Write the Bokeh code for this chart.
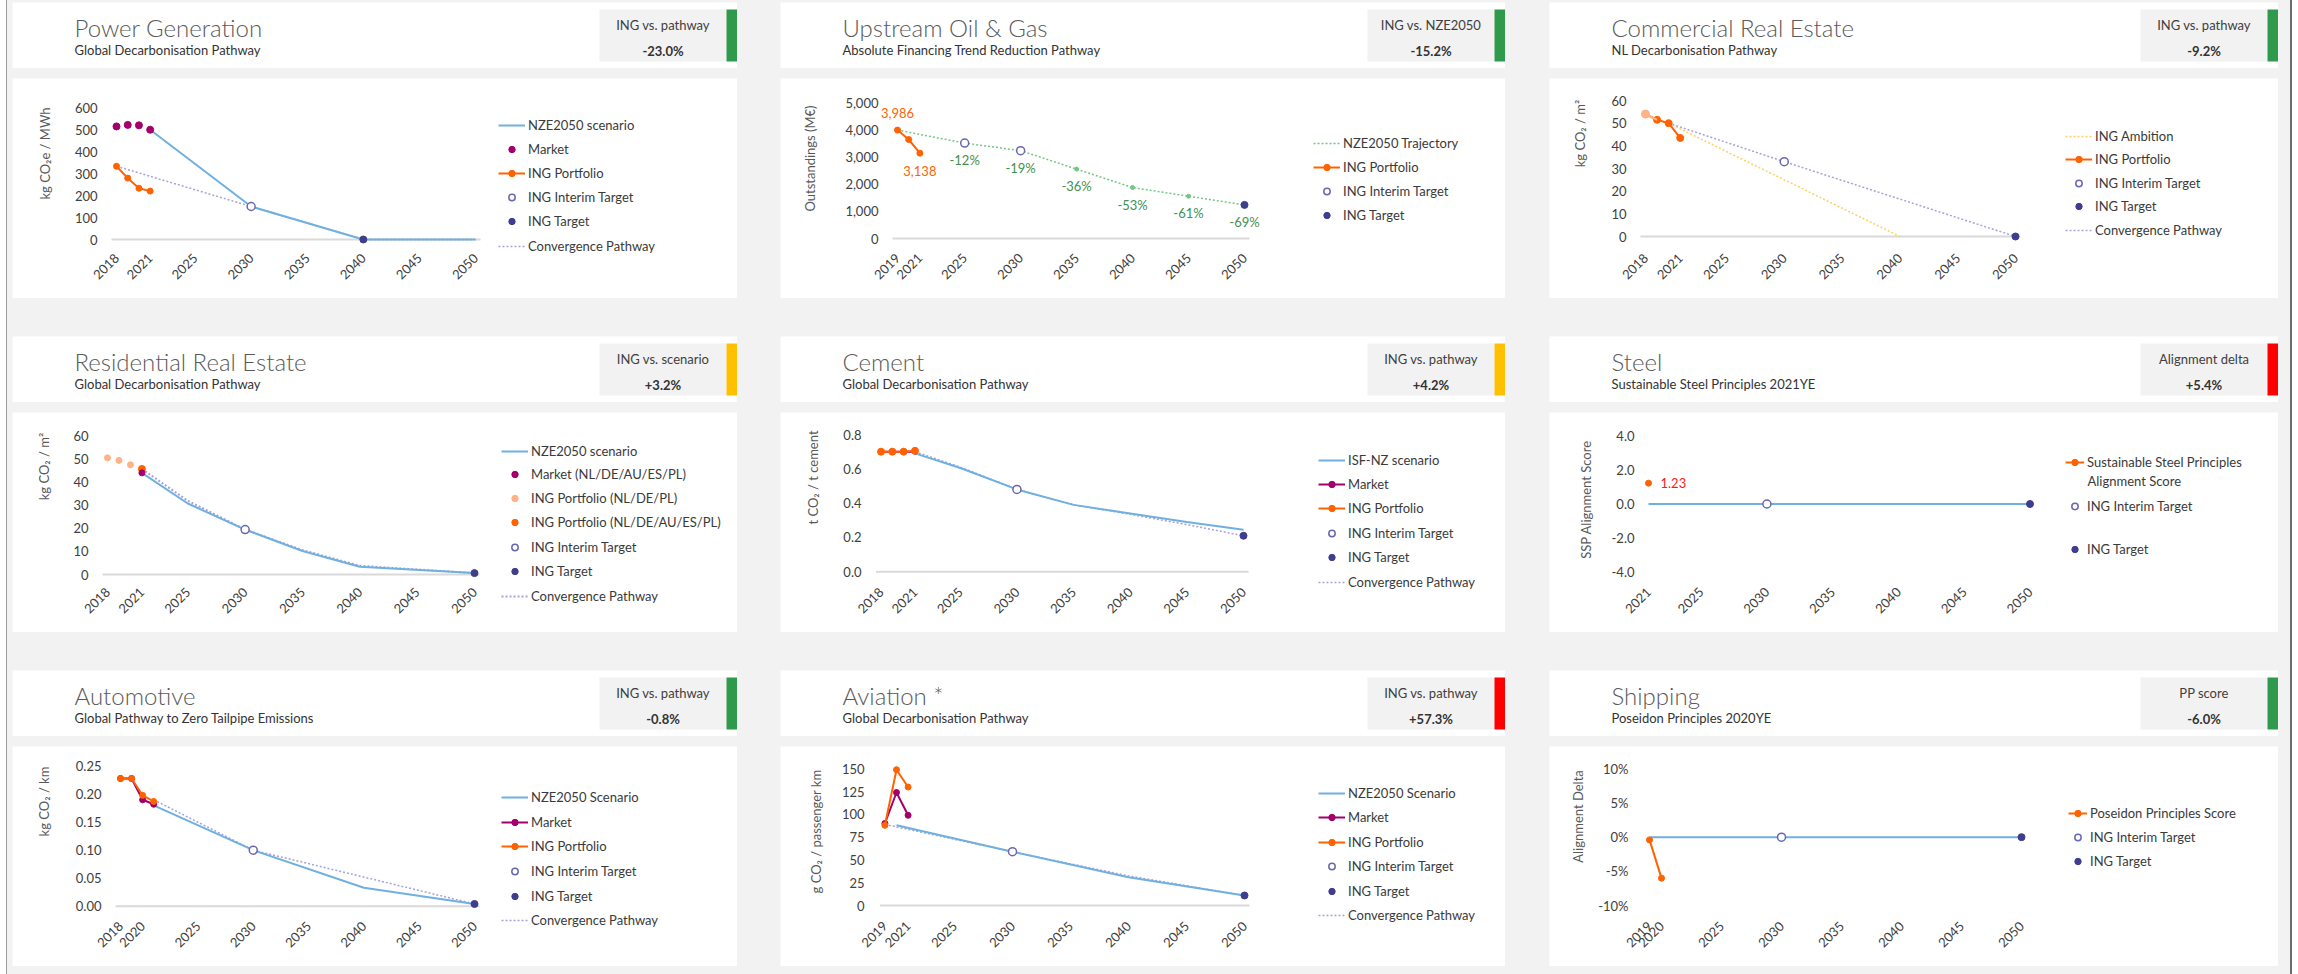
from math import pi
from bokeh.plotting import figure
from bokeh.models import Range1d, FixedTicker, NumeralTickFormatter, Legend, LegendItem, Label, Spacer
from bokeh.layouts import row, column
from bokeh.embed import file_html
from bokeh.resources import INLINE
from bokeh.core.properties import value

# ------------------------------------------------------------------ data
titles = ["Power Generation", "Upstream Oil & Gas", "Commercial Real Estate",
          "Residential Real Estate", "Cement", "Steel",
          "Automotive", "Aviation *", "Shipping"]
subtitles = ["Global Decarbonisation Pathway", "Absolute Financing Trend Reduction Pathway",
             "NL Decarbonisation Pathway", "Global Decarbonisation Pathway",
             "Global Decarbonisation Pathway", "Sustainable Steel Principles 2021YE",
             "Global Pathway to Zero Tailpipe Emissions", "Global Decarbonisation Pathway",
             "Poseidon Principles 2020YE"]
badge_labels = ["ING vs. pathway", "ING vs. NZE2050", "ING vs. pathway",
                "ING vs. scenario", "ING vs. pathway", "Alignment delta",
                "ING vs. pathway", "ING vs. pathway", "PP score"]
badge_values = ["-23.0%", "-15.2%", "-9.2%", "+3.2%", "+4.2%", "+5.4%", "-0.8%", "+57.3%", "-6.0%"]
badge_status = ["green", "green", "green", "yellow", "yellow", "red", "green", "red", "green"]

# Power generation
pg_years = [2018, 2019, 2020, 2021]
pg_market = [514, 521, 519, 499]
pg_portfolio = [333, 279, 233, 220]
pg_nze_years = [2021, 2030, 2040, 2050]
pg_nze = [499, 150, 0, 0]
pg_conv_years = [2018, 2030, 2040, 2050]
pg_conv = [333, 150, 0, 0]
pg_interim_years, pg_interim = [2030], [150]
pg_target_years, pg_target = [2040], [0]
pg_xticks = [2018, 2021, 2025, 2030, 2035, 2040, 2045, 2050]
pg_yticks = [0, 100, 200, 300, 400, 500, 600]

# Upstream oil & gas
og_years = [2019, 2020, 2021]
og_portfolio = [3986, 3640, 3138]
og_traj_years = [2019, 2025, 2030, 2035, 2040, 2045, 2050]
og_traj = [3986, 3508, 3229, 2551, 1873, 1555, 1236]
og_pct = [-12, -19, -36, -53, -61, -69]
og_interim_years, og_interim = [2025, 2030], [3508, 3229]
og_target_years, og_target = [2050], [1236]
og_xticks = [2019, 2021, 2025, 2030, 2035, 2040, 2045, 2050]
og_yticks = [0, 1000, 2000, 3000, 4000, 5000]

# Commercial real estate
cre_years = [2018, 2019, 2020, 2021]
cre_portfolio = [54, 51.5, 50, 43.5]
cre_amb_years, cre_amb = [2020, 2040], [50, 0]
cre_conv_years, cre_conv = [2020, 2030, 2050], [50, 33, 0]
cre_interim_years, cre_interim = [2030], [33]
cre_target_years, cre_target = [2050], [0]
cre_xticks = [2018, 2021, 2025, 2030, 2035, 2040, 2045, 2050]
cre_yticks = [0, 10, 20, 30, 40, 50, 60]

# Residential real estate
rre_nldepl_years, rre_nldepl = [2018, 2019, 2020], [50.6, 49.5, 47.6]
rre_all_years, rre_all = [2021], [45.8]
rre_market_years, rre_market = [2021], [44.1]
rre_nze_years = [2021, 2025, 2030, 2035, 2040, 2050]
rre_nze = [44.1, 30.8, 19.5, 10.2, 3.4, 0.6]
rre_conv = [45.8, 32.0, 19.5, 10.6, 3.8, 0.6]
rre_interim_years, rre_interim = [2030], [19.5]
rre_target_years, rre_target = [2050], [0.6]
rre_xticks = [2018, 2021, 2025, 2030, 2035, 2040, 2045, 2050]
rre_yticks = [0, 10, 20, 30, 40, 50, 60]

# Cement
cem_years = [2018, 2019, 2020, 2021]
cem_portfolio = [0.70, 0.70, 0.70, 0.705]
cem_market = [0.70, 0.70, 0.70, 0.70]
cem_isf_years = [2021, 2025, 2030, 2035, 2040, 2045, 2050]
cem_isf = [0.69, 0.605, 0.48, 0.39, 0.34, 0.29, 0.245]
cem_conv = [0.70, 0.61, 0.48, 0.39, 0.335, 0.275, 0.21]
cem_interim_years, cem_interim = [2030], [0.48]
cem_target_years, cem_target = [2050], [0.21]
cem_xticks = [2018, 2021, 2025, 2030, 2035, 2040, 2045, 2050]
cem_yticks = [0.0, 0.2, 0.4, 0.6, 0.8]

# Steel
st_years, st_score = [2021], [1.23]
st_ref_years, st_ref = [2021, 2050], [0, 0]
st_interim_years, st_interim = [2030], [0]
st_target_years, st_target = [2050], [0]
st_xticks = [2021, 2025, 2030, 2035, 2040, 2045, 2050]
st_yticks = [-4.0, -2.0, 0.0, 2.0, 4.0]

# Automotive
au_years = [2018, 2019, 2020, 2021]
au_portfolio = [0.228, 0.228, 0.198, 0.187]
au_market = [0.228, 0.228, 0.190, 0.182]
au_nze_years = [2021, 2030, 2040, 2050]
au_nze = [0.180, 0.100, 0.033, 0.004]
au_conv = [0.190, 0.100, 0.052, 0.004]
au_interim_years, au_interim = [2030], [0.10]
au_target_years, au_target = [2050], [0.004]
au_xticks = [2018, 2020, 2025, 2030, 2035, 2040, 2045, 2050]
au_yticks = [0.0, 0.05, 0.10, 0.15, 0.20, 0.25]

# Aviation
av_years = [2019, 2020, 2021]
av_portfolio = [88, 149, 130]
av_market = [90, 124, 99]
av_nze_years, av_nze = [2020, 2030, 2040, 2050], [88, 59, 31, 11]
av_conv_years, av_conv = [2019, 2030, 2040, 2050], [89, 59, 32.5, 11]
av_interim_years, av_interim = [2030], [59]
av_target_years, av_target = [2050], [11]
av_xticks = [2019, 2021, 2025, 2030, 2035, 2040, 2045, 2050]
av_yticks = [0, 25, 50, 75, 100, 125, 150]

# Shipping
sh_years, sh_score = [2019, 2020], [-0.004, -0.060]
sh_ref_years, sh_ref = [2019, 2050], [0, 0]
sh_interim_years, sh_interim = [2030], [0]
sh_target_years, sh_target = [2050], [0]
sh_xticks = [2019, 2020, 2025, 2030, 2035, 2040, 2045, 2050]
sh_yticks = [-0.10, -0.05, 0.0, 0.05, 0.10]

# ------------------------------------------------------------------ style
FONT = "Lato"
TITLE_FONT = "Lato Light, Lato"
BLUE = "#6FB0E0"
MAGENTA = "#A3006B"
ORANGE = "#FF6200"
LIGHT_ORANGE = "#FFB285"
INTERIM = "#6A67B0"
TARGET = "#3F3D8E"
CONV = "#A4A3D6"
AMBITION = "#FFCF66"
GREEN_TRAJ = "#72C784"
GREEN_TXT = "#3F9150"
BASE = "#D9D9D9"
TICK = "#404040"
AXT = "#595959"
LEG = "#3A3A3A"
PAGE_BG = "#F2F2F2"
BADGE_BG = "#F2F2F2"
STATUS = {"green": "#2F9A4C", "yellow": "#FFC000", "red": "#FF0000"}

HH, CH = 66, 220      # header / chart box heights
XAX = 174             # pixel row of the x-axis (tick labels hang below it)
LH = 16               # legend row height


def make_header(W, title, subtitle, blabel, bval, bcolor):
    h = figure(width=W, height=HH, x_range=Range1d(0, W), y_range=Range1d(HH, 0),
               x_axis_location=None, y_axis_location=None, output_backend="svg",
               toolbar_location=None, min_border=0)
    h.grid.visible = False
    h.outline_line_color = None
    h.background_fill_color = "white"
    h.border_fill_color = "white"
    h.quad(left=[W - 138], right=[W - 11], top=[7], bottom=[59], fill_color=BADGE_BG, line_color=None)
    h.quad(left=[W - 11], right=[W], top=[7], bottom=[59], fill_color=bcolor, line_color=None)
    h.text(x=[62], y=[25], text=[title], text_font=value(TITLE_FONT), text_font_size="24px",
           text_color="#5A5A5A", text_baseline="middle", text_align="left")
    h.text(x=[62], y=[47], text=[subtitle], text_font=value(FONT), text_font_size="13px",
           text_color="#333333", text_baseline="middle", text_align="left")
    h.text(x=[W - 74.5], y=[22], text=[blabel], text_font=value(FONT), text_font_size="13px",
           text_color="#404040", text_align="center", text_baseline="middle")
    h.text(x=[W - 74.5], y=[48], text=[bval], text_font=value(FONT), text_font_size="13px",
           text_font_style="bold", text_color="#333333", text_align="center",
           text_baseline="middle")
    return h


def make_chart(W, TR, xa, pxa, xb, pxb, vb, pb, vt, pt, xticks, yticks, yfmt):
    """Frame fills the whole box; axes are pinned inside it at pixel columns/rows."""
    s = (pxb - pxa) / (xb - xa)
    sy = (pb - pt) / (vt - vb)
    p = figure(width=W, height=CH,
               x_range=Range1d(xa - pxa / s, xb + (W - pxb) / s),
               y_range=Range1d(vb - (CH - pb) / sy, vt + pt / sy),
               output_backend="svg", toolbar_location=None, min_border=0)
    p.grid.visible = False
    p.outline_line_color = None
    p.background_fill_color = "white"
    p.border_fill_color = "white"
    p.xaxis.ticker = FixedTicker(ticks=xticks)
    p.yaxis.ticker = FixedTicker(ticks=yticks)
    p.xaxis.formatter = NumeralTickFormatter(format="0")
    p.yaxis.formatter = NumeralTickFormatter(format=yfmt)
    for ax in p.axis:
        ax.axis_line_color = None
        ax.major_tick_line_color = None
        ax.minor_tick_line_color = None
        ax.major_tick_out = 0
        ax.major_tick_in = 0
        ax.minor_tick_out = 0
        ax.minor_tick_in = 0
        ax.major_label_text_font = FONT
        ax.major_label_text_font_size = "13px"
        ax.major_label_text_color = TICK
    p.xaxis.major_label_orientation = pi / 4
    p.xaxis.major_label_standoff = 3
    p.yaxis.major_label_standoff = 6
    p.yaxis.fixed_location = xa - (pxa - (TR + 6)) / s
    p.xaxis.fixed_location = vb - (XAX - pb) / sy
    return p, s


def baseline(p, s, x_first, x_last):
    pad = 5 / s
    p.line(x=[x_first - pad, x_last + pad], y=[0, 0], line_color=BASE, line_width=2)


def ln(p, x, y, color, width=2, dash="solid"):
    return p.line(x=x, y=y, line_color=color, line_width=width, line_dash=dash)


def dots(p, x, y, color, size=7):
    return p.scatter(x=x, y=y, marker="circle", size=size, fill_color=color, line_color=color)


def interim(p, x, y):
    return p.scatter(x=x, y=y, marker="circle", size=8, fill_color="white",
                     line_color=INTERIM, line_width=1.5)


def target(p, x, y):
    return p.scatter(x=x, y=y, marker="circle", size=7, fill_color=TARGET, line_color=TARGET)


def ytitle(p, text, cx, cy):
    p.add_layout(Label(x=cx, y=CH - cy, x_units="screen", y_units="screen", text=text,
                       angle=pi / 2, text_align="center", text_baseline="middle",
                       text_font=FONT, text_font_size="13px", text_color=AXT))


def legends(p, lx, entries, gw=27):
    for label, rs, cy in entries:
        lg = Legend(items=[LegendItem(label=label, renderers=rs)],
                    location=(lx, CH - cy - LH / 2),
                    glyph_width=gw, glyph_height=LH, label_height=LH, label_standoff=3,
                    padding=0, margin=0, spacing=0,
                    background_fill_alpha=0, border_line_color=None,
                    label_text_font=FONT, label_text_font_size="13px", label_text_color=LEG)
        p.add_layout(lg)


charts = []

# ---- 1 Power generation
p, s = make_chart(725, 85, 2018, 104, 2050, 463, 0, 161, 600, 29, pg_xticks, pg_yticks, "0")
baseline(p, s, pg_xticks[0], pg_xticks[-1])
r_conv = ln(p, pg_conv_years, pg_conv, CONV, 1.5, "2 2")
r_nze = ln(p, pg_nze_years, pg_nze, BLUE, 2)
r_pl = ln(p, pg_years, pg_portfolio, ORANGE, 2)
r_pd = dots(p, pg_years, pg_portfolio, ORANGE, 6)
r_mk = dots(p, pg_years, pg_market, MAGENTA, 7)
r_int = interim(p, pg_interim_years, pg_interim)
r_tgt = target(p, pg_target_years, pg_target)
ytitle(p, "kg CO₂e / MWh", 32, 75)
legends(p, 486, [("NZE2050 scenario", [r_nze], 47), ("Market", [r_mk], 71),
                 ("ING Portfolio", [r_pl, r_pd], 95), ("ING Interim Target", [r_int], 119),
                 ("ING Target", [r_tgt], 143), ("Convergence Pathway", [r_conv], 168)])
charts.append(p)

# ---- 2 Upstream oil & gas
p, s = make_chart(725, 98, 2019, 117, 2050, 464, 0, 160, 5000, 24, og_xticks, og_yticks, "0,0")
baseline(p, s, og_xticks[0], og_xticks[-1])
r_tr = ln(p, og_traj_years, og_traj, GREEN_TRAJ, 1.5, "2 2")
dots(p, og_traj_years[3:6], og_traj[3:6], GREEN_TRAJ, 4)
r_pl = ln(p, og_years, og_portfolio, ORANGE, 2)
r_pd = dots(p, og_years, og_portfolio, ORANGE, 6)
r_int = interim(p, og_interim_years, og_interim)
r_tgt = target(p, og_target_years, og_target)
p.text(x=[og_years[0], og_years[-1]], y=[og_portfolio[0], og_portfolio[-1]],
       text=[f"{og_portfolio[0]:,}", f"{og_portfolio[-1]:,}"], y_offset=[-17, 18],
       text_align="center", text_baseline="middle", text_font=value(FONT),
       text_font_size="13px", text_color=ORANGE)
p.text(x=og_traj_years[1:], y=og_traj[1:], text=[f"{v}%" for v in og_pct], y_offset=17,
       text_align="center", text_baseline="middle", text_font=value(FONT),
       text_font_size="13px", text_color=GREEN_TXT)
ytitle(p, "Outstandings (M€)", 29, 80)
legends(p, 533, [("NZE2050 Trajectory", [r_tr], 65), ("ING Portfolio", [r_pl, r_pd], 89),
                 ("ING Interim Target", [r_int], 113), ("ING Target", [r_tgt], 137)])
charts.append(p)

# ---- 3 Commercial real estate
p, s = make_chart(729, 77, 2018, 96, 2050, 466, 0, 158, 60, 22, cre_xticks, cre_yticks, "0")
baseline(p, s, cre_xticks[0], cre_xticks[-1])
r_amb = ln(p, cre_amb_years, cre_amb, AMBITION, 1.5, "2 2")
r_conv = ln(p, cre_conv_years, cre_conv, CONV, 1.5, "2 2")
r_pl = ln(p, cre_years, cre_portfolio, ORANGE, 2)
r_pd = dots(p, cre_years, cre_portfolio, ORANGE, 7)
ln(p, cre_years[:2], cre_portfolio[:2], LIGHT_ORANGE, 2)
dots(p, cre_years[:1], cre_portfolio[:1], LIGHT_ORANGE, 8)
r_int = interim(p, cre_interim_years, cre_interim)
r_tgt = target(p, cre_target_years, cre_target)
ytitle(p, "kg CO₂ / m²", 30, 55)
legends(p, 516, [("ING Ambition", [r_amb], 58), ("ING Portfolio", [r_pl, r_pd], 81),
                 ("ING Interim Target", [r_int], 105), ("ING Target", [r_tgt], 128),
                 ("Convergence Pathway", [r_conv], 152)])
charts.append(p)

# ---- 4 Residential real estate
p, s = make_chart(725, 76, 2018, 95, 2050, 462, 0, 162, 60, 23.7, rre_xticks, rre_yticks, "0")
baseline(p, s, rre_xticks[0], rre_xticks[-1])
r_conv = ln(p, rre_nze_years, rre_conv, CONV, 2, "2 2")
r_nze = ln(p, rre_nze_years, rre_nze, BLUE, 2)
r_a = dots(p, rre_nldepl_years, rre_nldepl, LIGHT_ORANGE, 6)
r_b = dots(p, rre_all_years, rre_all, ORANGE, 7)
r_mk = dots(p, rre_market_years, rre_market, MAGENTA, 6)
r_int = interim(p, rre_interim_years, rre_interim)
r_tgt = target(p, rre_target_years, rre_target)
ytitle(p, "kg CO₂ / m²", 31, 54)
legends(p, 489, [("NZE2050 scenario", [r_nze], 38.7), ("Market (NL/DE/AU/ES/PL)", [r_mk], 62),
                 ("ING Portfolio (NL/DE/PL)", [r_a], 86),
                 ("ING Portfolio (NL/DE/AU/ES/PL)", [r_b], 110.3),
                 ("ING Interim Target", [r_int], 135.3), ("ING Target", [r_tgt], 159.3),
                 ("Convergence Pathway", [r_conv], 183.7)])
charts.append(p)

# ---- 5 Cement
p, s = make_chart(725, 81, 2018, 100.5, 2050, 463, 0, 159.3, 0.8, 22, cem_xticks, cem_yticks, "0.0")
baseline(p, s, cem_xticks[0], cem_xticks[-1])
r_conv = ln(p, cem_isf_years, cem_conv, CONV, 1.5, "2 2")
r_isf = ln(p, cem_isf_years, cem_isf, BLUE, 2)
r_ml = ln(p, cem_years, cem_market, MAGENTA, 2)
r_md = dots(p, cem_years, cem_market, MAGENTA, 5)
r_pl = ln(p, cem_years, cem_portfolio, ORANGE, 2)
r_pd = dots(p, cem_years, cem_portfolio, ORANGE, 7)
r_int = interim(p, cem_interim_years, cem_interim)
r_tgt = target(p, cem_target_years, cem_target)
ytitle(p, "t CO₂ / t cement", 32, 65)
legends(p, 538, [("ISF-NZ scenario", [r_isf], 48), ("Market", [r_ml, r_md], 72),
                 ("ING Portfolio", [r_pl, r_pd], 96), ("ING Interim Target", [r_int], 121),
                 ("ING Target", [r_tgt], 145), ("Convergence Pathway", [r_conv], 170)])
charts.append(p)

# ---- 6 Steel
p, s = make_chart(729, 85, 2021, 99, 2050, 480.5, -4, 159.3, 4, 23.7, st_xticks, st_yticks, "0.0")
ln(p, st_ref_years, st_ref, BLUE, 2)
r_sl = ln(p, st_years, st_score, ORANGE, 2)
r_sd = dots(p, st_years, st_score, ORANGE, 6)
r_int = interim(p, st_interim_years, st_interim)
r_tgt = target(p, st_target_years, st_target)
p.text(x=st_years, y=st_score, text=[f"{v:.2f}" for v in st_score], x_offset=12,
       text_align="left", text_baseline="middle", text_font=value(FONT),
       text_font_size="13px", text_color="#FF1A1A")
ytitle(p, "SSP Alignment Score", 36, 87)
legends(p, 516, [("Sustainable Steel Principles", [r_sl, r_sd], 49.7),
                 ("ING Interim Target", [r_int], 93.7), ("ING Target", [r_tgt], 137)], gw=19)
p.add_layout(Label(x=538, y=CH - 68, x_units="screen", y_units="screen",
                   text="Alignment Score", text_baseline="middle", text_font=FONT,
                   text_font_size="13px", text_color=LEG))
charts.append(p)

# ---- 7 Automotive
p, s = make_chart(725, 89, 2018, 108, 2050, 462, 0, 159.7, 0.25, 19.7, au_xticks, au_yticks, "0.00")
baseline(p, s, au_xticks[0], au_xticks[-1])
r_conv = ln(p, au_nze_years, au_conv, CONV, 1.5, "2 2")
r_nze = ln(p, au_nze_years, au_nze, BLUE, 2)
r_ml = ln(p, au_years, au_market, MAGENTA, 2)
r_md = dots(p, au_years, au_market, MAGENTA, 6)
r_pl = ln(p, au_years, au_portfolio, ORANGE, 2)
r_pd = dots(p, au_years, au_portfolio, ORANGE, 6)
r_int = interim(p, au_interim_years, au_interim)
r_tgt = target(p, au_target_years, au_target)
ytitle(p, "kg CO₂ / km", 31, 55)
legends(p, 489, [("NZE2050 Scenario", [r_nze], 51.3), ("Market", [r_ml, r_md], 75.7),
                 ("ING Portfolio", [r_pl, r_pd], 100.3), ("ING Interim Target", [r_int], 124.7),
                 ("ING Target", [r_tgt], 149.7), ("Convergence Pathway", [r_conv], 173.7)])
charts.append(p)

# ---- 8 Aviation
p, s = make_chart(725, 84, 2019, 104.4, 2050, 464, 0, 159, 150, 22.3, av_xticks, av_yticks, "0")
baseline(p, s, av_xticks[0], av_xticks[-1])
r_conv = ln(p, av_conv_years, av_conv, CONV, 1.5, "2 2")
r_nze = ln(p, av_nze_years, av_nze, BLUE, 2)
r_ml = ln(p, av_years, av_market, MAGENTA, 2)
r_md = dots(p, av_years, av_market, MAGENTA, 6)
r_pl = ln(p, av_years, av_portfolio, ORANGE, 2)
r_pd = dots(p, av_years, av_portfolio, ORANGE, 6)
r_int = interim(p, av_interim_years, av_interim)
r_tgt = target(p, av_target_years, av_target)
ytitle(p, "g CO₂ / passenger km", 35, 85)
legends(p, 538, [("NZE2050 Scenario", [r_nze], 47), ("Market", [r_ml, r_md], 71.3),
                 ("ING Portfolio", [r_pl, r_pd], 95.7), ("ING Interim Target", [r_int], 120.3),
                 ("ING Target", [r_tgt], 144.7), ("Convergence Pathway", [r_conv], 169)])
charts.append(p)

# ---- 9 Shipping
p, s = make_chart(729, 79, 2019, 100, 2050, 472, -0.10, 159, 0.10, 22.3, sh_xticks, sh_yticks, "0%")
ln(p, sh_ref_years, sh_ref, BLUE, 2)
r_sl = ln(p, sh_years, sh_score, ORANGE, 2)
r_sd = dots(p, sh_years, sh_score, ORANGE, 6)
r_int = interim(p, sh_interim_years, sh_interim)
r_tgt = target(p, sh_target_years, sh_target)
ytitle(p, "Alignment Delta", 28, 70)
legends(p, 519, [("Poseidon Principles Score", [r_sl, r_sd], 67),
                 ("ING Interim Target", [r_int], 91.3), ("ING Target", [r_tgt], 114.7)], gw=19)
charts.append(p)

# ------------------------------------------------------------------ layout
widths = [725, 725, 729, 725, 725, 729, 725, 725, 729]
panels = []
for i in range(9):
    hdr = make_header(widths[i], titles[i], subtitles[i], badge_labels[i], badge_values[i],
                      STATUS[badge_status[i]])
    panels.append(column(hdr, charts[i], spacing=10))

PH = HH + 10 + CH
grid_rows = []
for r in range(3):
    grid_rows.append(row(panels[3 * r], Spacer(width=43, height=PH), panels[3 * r + 1],
                         Spacer(width=44, height=PH), panels[3 * r + 2]))

inner = column(Spacer(width=2266, height=2), grid_rows[0], Spacer(width=2266, height=38),
               grid_rows[1], Spacer(width=2266, height=38), grid_rows[2],
               Spacer(width=2266, height=8))

TOTAL_H = 2 + 3 * PH + 2 * 38 + 8
page = row(Spacer(width=6, height=TOTAL_H, styles={"background-color": "white"}),
           Spacer(width=1, height=TOTAL_H, styles={"background-color": "#9A9A9A"}),
           Spacer(width=5, height=TOTAL_H),
           inner,
           Spacer(width=12, height=TOTAL_H),
           Spacer(width=2, height=TOTAL_H, styles={"background-color": "#6E6E6E"}),
           Spacer(width=6, height=TOTAL_H, styles={"background-color": "white"}),
           styles={"background-color": PAGE_BG})

open("out.html", "w").write(file_html(page, INLINE))
